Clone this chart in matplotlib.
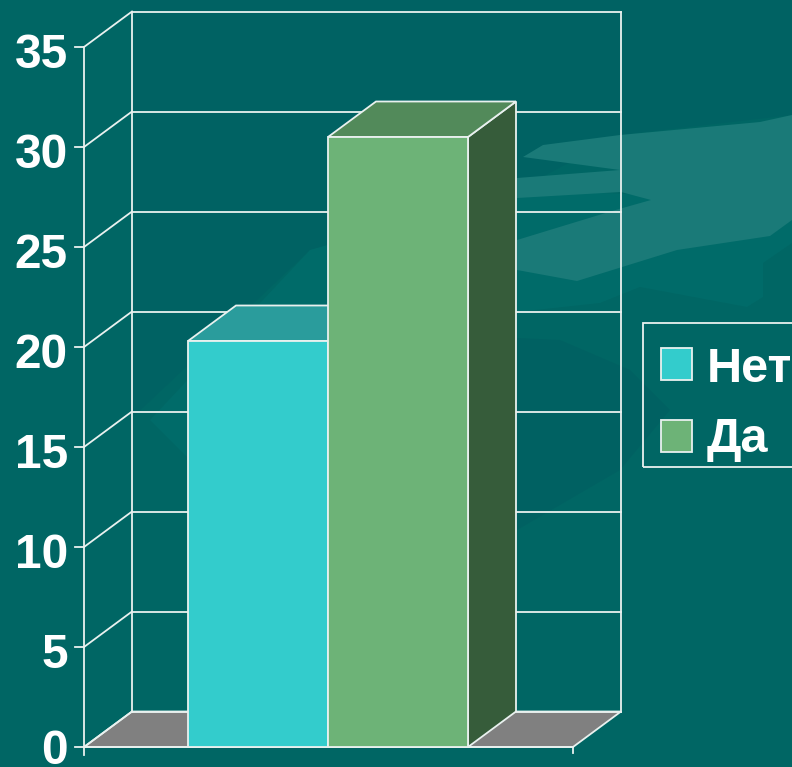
import matplotlib
matplotlib.use('Agg')
from matplotlib import pyplot as plt
from matplotlib.patches import Polygon, Rectangle

# data
labels = ['Нет', 'Да']
values = [20.3, 30.5]
y_ticks = [0, 5, 10, 15, 20, 25, 30, 35]

front_colors = ['#33cccc', '#6db377']
top_colors = ['#2a9c9c', '#528a5a']
side_colors = ['#237f7f', '#365c3a']
line_col = '#e9f1ef'

plt.rcParams['font.family'] = ['Liberation Sans', 'DejaVu Sans']
plt.rcParams['font.weight'] = 'bold'

W, H = 792, 767
fig = plt.figure(figsize=(W / 100, H / 100), dpi=100, facecolor='#006664')

# background picture, pixel coords
bg = fig.add_axes([0, 0, 1, 1], zorder=0)
bg.set_xlim(0, W)
bg.set_ylim(H, 0)
bg.axis('off')
light = [(150, 420), (310, 250), (520, 190), (792, 200), (792, 243), (763, 263), (763, 297),
         (747, 307), (640, 287), (600, 303), (517, 312), (400, 340), (200, 470)]
dark_top = [(130, 0), (792, 0), (792, 115), (620, 135), (500, 200), (310, 250), (130, 420)]
dark_low = [(517, 338), (560, 340), (630, 370), (670, 410), (620, 470), (517, 530), (400, 560), (300, 440), (400, 340)]
swoosh = [(523, 157), (543, 145), (620, 135), (760, 122), (792, 115), (792, 220), (770, 236), (677, 250),
          (577, 281), (517, 270), (517, 240), (612, 211), (651, 200), (621, 192), (517, 198), (517, 178),
          (620, 170)]
bg.add_patch(Polygon(dark_top, fc='#006263', ec='none'))
bg.add_patch(Polygon(light, fc='#006b69', ec='none'))
bg.add_patch(Polygon(dark_low, fc='#006162', ec='none'))
bg.add_patch(Polygon(swoosh, fc='#1a7a78', ec='none'))

# chart axes: x in px, y in chart units (20 px per unit, 0 at y=747)
ax = fig.add_axes([0, 0, 1, 1], zorder=1)
ax.patch.set_alpha(0)
ax.set_xlim(0, W)
ax.set_ylim((747 - H) / 20, 747 / 20)
ax.axis('off')

dx, dy = 48, 1.775
x0, x1 = 84, 573
lw = 1.3

# floor
ax.add_patch(Polygon([(x0, 0), (x0 + dx, dy), (x1 + dx, dy), (x1, 0)], fc='#808080', ec=line_col, lw=lw, zorder=1))

# walls and grid
ax.plot([x0, x0], [-0.4, y_ticks[-1]], color=line_col, lw=lw, zorder=2)
ax.plot([x0 + dx, x0 + dx], [dy, y_ticks[-1] + dy], color=line_col, lw=lw, zorder=2)
ax.plot([x1 + dx, x1 + dx], [dy, y_ticks[-1] + dy], color=line_col, lw=lw, zorder=2)
ax.plot([x1, x1], [-0.3, 0], color=line_col, lw=lw, zorder=2)
for v in y_ticks:
    ax.plot([x0 - 9, x0], [v, v], color=line_col, lw=lw, zorder=2)
    ax.plot([x0, x0 + dx], [v, v + dy], color=line_col, lw=lw, zorder=2)
    ax.plot([x0 + dx, x1 + dx], [v + dy, v + dy], color=line_col, lw=lw, zorder=2)
    # the 0 label sits right at the bottom edge, keep it inside
    off = 0 if v == 0 else -3
    ax.annotate(str(v), (68, v), xytext=(0, off), textcoords='offset pixels', ha='right', va='center_baseline',
                color='white', fontsize=34.5, annotation_clip=False, zorder=5)
ax.plot([x0, x1], [0, 0], color=line_col, lw=lw, zorder=2)

# bars
bar_w = 140
bar_x = [258, 398]
for i, v in enumerate(values):
    xl, xr = bar_x[i] - bar_w / 2, bar_x[i] + bar_w / 2
    ax.add_patch(Polygon([(xr, 0), (xr + dx, dy), (xr + dx, v + dy), (xr, v)],
                         fc=side_colors[i], ec=line_col, lw=lw, zorder=3 + i))
    ax.add_patch(Polygon([(xl, v), (xl + dx, v + dy), (xr + dx, v + dy), (xr, v)],
                         fc=top_colors[i], ec=line_col, lw=lw, zorder=3 + i))
    ax.bar(bar_x[i], v, width=bar_w, color=front_colors[i], edgecolor=line_col, lw=lw, zorder=3 + i)


# legend
def py(p):
    return (747 - p) / 20


ax.add_patch(Rectangle((643, py(467)), 160, py(323) - py(467), fc='none', ec=line_col, lw=lw, zorder=5))
swatch_top = [348, 420]
text_base = [382, 452]
for i, name in enumerate(labels):
    ax.add_patch(Rectangle((660.5, py(swatch_top[i] + 32)), 31.5, 32 / 20, fc=front_colors[i], ec=line_col, lw=lw, zorder=5))
    ax.text(707, py(text_base[i]), name, ha='left', va='baseline', color='white', fontsize=35, zorder=5)

fig.savefig('out.png', dpi=100, facecolor=fig.get_facecolor())
